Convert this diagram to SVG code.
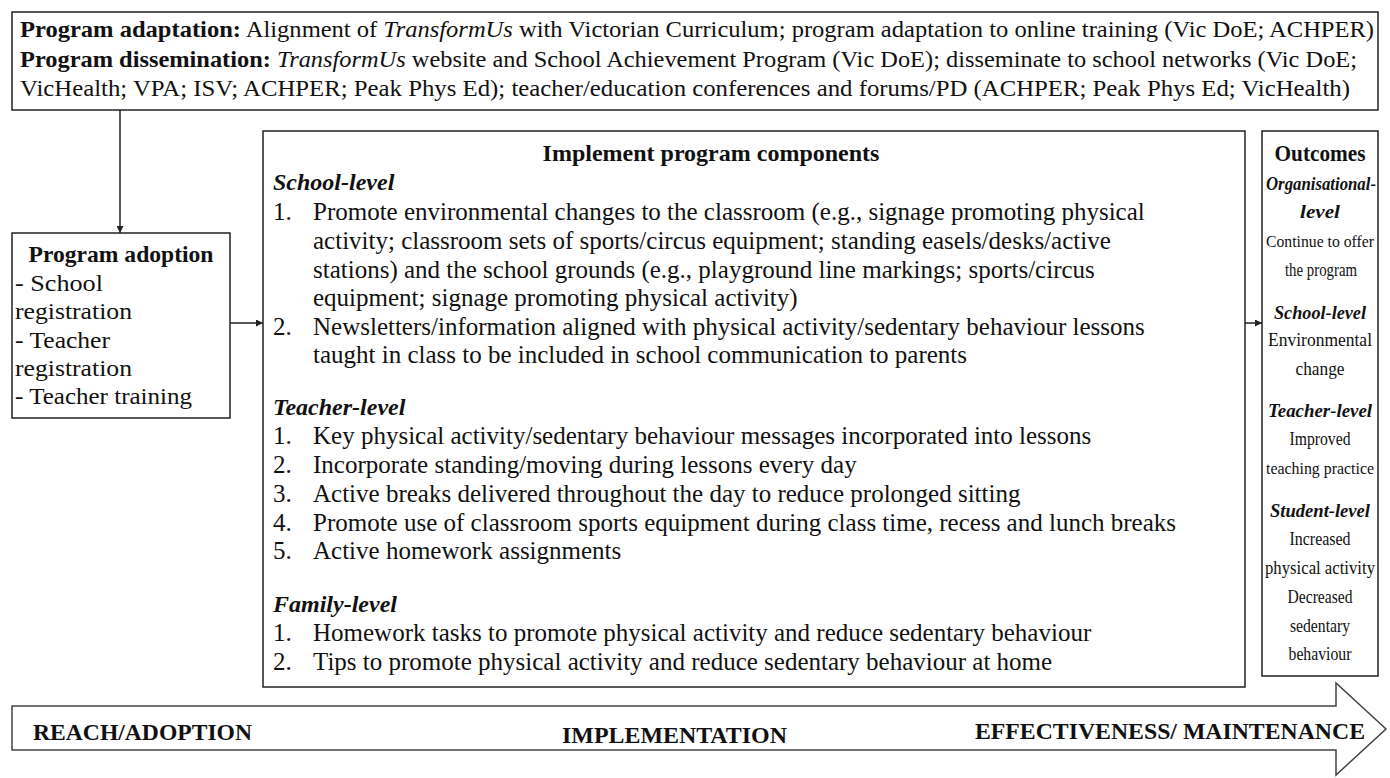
<svg xmlns="http://www.w3.org/2000/svg" width="1390" height="778" viewBox="0 0 1390 778">
<defs>
<style>
text{font-family:"Liberation Serif","Times New Roman",serif;font-size:24px;fill:#111;}
.b{font-weight:bold;}
.i{font-style:italic;}
.bi{font-weight:bold;font-style:italic;}
.c{text-anchor:middle;}
.t{font-size:25px;}
.o{font-size:19px;}
.os{font-size:17px;}
.box{fill:#fff;stroke:#222;stroke-width:1.5;}
.conn{stroke:#222;stroke-width:1.5;fill:none;}
</style>
<marker id="ah" viewBox="0 0 10 10" refX="10" refY="5" markerWidth="7" markerHeight="7" orient="auto" markerUnits="userSpaceOnUse">
<path d="M0,0 L10,5 L0,10 z" fill="#222"/>
</marker>
</defs>
<rect width="1390" height="778" fill="#fff"/>

<g id="top-box">
<rect class="box" x="12" y="12" width="1366" height="98"/>
<text x="20" y="37" textLength="1354" lengthAdjust="spacingAndGlyphs"><tspan class="b">Program adaptation:</tspan> Alignment of <tspan class="i">TransformUs</tspan> with Victorian Curriculum; program adaptation to online training (Vic DoE; ACHPER)</text>
<text x="20" y="67" textLength="1337" lengthAdjust="spacingAndGlyphs"><tspan class="b">Program dissemination:</tspan> <tspan class="i">TransformUs</tspan> website and School Achievement Program (Vic DoE); disseminate to school networks (Vic DoE;</text>
<text x="20" y="96" textLength="1330" lengthAdjust="spacingAndGlyphs">VicHealth; VPA; ISV; ACHPER; Peak Phys Ed); teacher/education conferences and forums/PD (ACHPER; Peak Phys Ed; VicHealth)</text>
</g>

<g id="adoption">
<rect class="box" x="12" y="233" width="218" height="185"/>
<text class="b c" x="121" y="262" textLength="185" lengthAdjust="spacingAndGlyphs">Program adoption</text>
<text x="15" y="291" textLength="88" lengthAdjust="spacingAndGlyphs">- School</text>
<text x="15" y="319" textLength="117" lengthAdjust="spacingAndGlyphs">registration</text>
<text x="15" y="348" textLength="95" lengthAdjust="spacingAndGlyphs">- Teacher</text>
<text x="15" y="376" textLength="117" lengthAdjust="spacingAndGlyphs">registration</text>
<text x="15" y="404" textLength="177" lengthAdjust="spacingAndGlyphs">- Teacher training</text>
</g>

<g id="implement">
<rect class="box" x="263" y="131" width="982" height="556"/>
<text class="b c" x="711" y="161">Implement program components</text>
<text class="bi" x="273" y="190">School-level</text>
<text class="t" x="273" y="220">1.</text>
<text class="t" x="313" y="220">Promote environmental changes to the classroom (e.g., signage promoting physical</text>
<text class="t" x="313" y="249">activity; classroom sets of sports/circus equipment; standing easels/desks/active</text>
<text class="t" x="313" y="278">stations) and the school grounds (e.g., playground line markings; sports/circus</text>
<text class="t" x="313" y="306">equipment; signage promoting physical activity)</text>
<text class="t" x="273" y="335">2.</text>
<text class="t" x="313" y="335">Newsletters/information aligned with physical activity/sedentary behaviour lessons</text>
<text class="t" x="313" y="363">taught in class to be included in school communication to parents</text>
<text class="bi" x="273" y="415">Teacher-level</text>
<text class="t" x="273" y="444">1.</text>
<text class="t" x="313" y="444">Key physical activity/sedentary behaviour messages incorporated into lessons</text>
<text class="t" x="273" y="473">2.</text>
<text class="t" x="313" y="473">Incorporate standing/moving during lessons every day</text>
<text class="t" x="273" y="502">3.</text>
<text class="t" x="313" y="502">Active breaks delivered throughout the day to reduce prolonged sitting</text>
<text class="t" x="273" y="531">4.</text>
<text class="t" x="313" y="531">Promote use of classroom sports equipment during class time, recess and lunch breaks</text>
<text class="t" x="273" y="559">5.</text>
<text class="t" x="313" y="559">Active homework assignments</text>
<text class="bi" x="273" y="612">Family-level</text>
<text class="t" x="273" y="641">1.</text>
<text class="t" x="313" y="641">Homework tasks to promote physical activity and reduce sedentary behaviour</text>
<text class="t" x="273" y="670">2.</text>
<text class="t" x="313" y="670">Tips to promote physical activity and reduce sedentary behaviour at home</text>
</g>

<g id="outcomes">
<rect class="box" x="1262" y="131" width="116" height="545"/>
<text class="b c" x="1320" y="161" textLength="91" lengthAdjust="spacingAndGlyphs">Outcomes</text>
<text class="bi c o" x="1321" y="190" textLength="110" lengthAdjust="spacingAndGlyphs">Organisational-</text>
<text class="bi c o" x="1320" y="218" textLength="40" lengthAdjust="spacingAndGlyphs">level</text>
<text class="c os" x="1320" y="247" textLength="108" lengthAdjust="spacingAndGlyphs">Continue to offer</text>
<text class="c o" x="1321" y="276" textLength="72" lengthAdjust="spacingAndGlyphs">the program</text>
<text class="bi c o" x="1320" y="319" textLength="92" lengthAdjust="spacingAndGlyphs">School-level</text>
<text class="c o" x="1320" y="346" textLength="104" lengthAdjust="spacingAndGlyphs">Environmental</text>
<text class="c o" x="1320" y="375" textLength="49" lengthAdjust="spacingAndGlyphs">change</text>
<text class="bi c o" x="1320" y="417" textLength="104" lengthAdjust="spacingAndGlyphs">Teacher-level</text>
<text class="c o" x="1320" y="445" textLength="61" lengthAdjust="spacingAndGlyphs">Improved</text>
<text class="c os" x="1320" y="474" textLength="108" lengthAdjust="spacingAndGlyphs">teaching practice</text>
<text class="bi c o" x="1320" y="517" textLength="100" lengthAdjust="spacingAndGlyphs">Student-level</text>
<text class="c o" x="1320" y="545" textLength="61" lengthAdjust="spacingAndGlyphs">Increased</text>
<text class="c o" x="1320" y="574" textLength="110" lengthAdjust="spacingAndGlyphs">physical activity</text>
<text class="c o" x="1320" y="603" textLength="65" lengthAdjust="spacingAndGlyphs">Decreased</text>
<text class="c o" x="1320" y="632" textLength="60" lengthAdjust="spacingAndGlyphs">sedentary</text>
<text class="c o" x="1320" y="660" textLength="63" lengthAdjust="spacingAndGlyphs">behaviour</text>
</g>

<g id="re-aim-arrow">
<polygon points="12,706 1336,706 1336,683 1386,729 1336,775 1336,750 12,750" fill="#fff" stroke="#444" stroke-width="1.5"/>
<text class="b" x="33" y="740" textLength="219" lengthAdjust="spacingAndGlyphs">REACH/ADOPTION</text>
<text class="b" x="562" y="743" textLength="225" lengthAdjust="spacingAndGlyphs">IMPLEMENTATION</text>
<text class="b" x="975" y="739" textLength="390" lengthAdjust="spacingAndGlyphs">EFFECTIVENESS/ MAINTENANCE</text>
</g>

<g id="connectors">
<line class="conn" x1="120" y1="110" x2="120" y2="233" marker-end="url(#ah)"/>
<line class="conn" x1="230" y1="323" x2="263" y2="323" marker-end="url(#ah)"/>
<line class="conn" x1="1245" y1="323" x2="1262" y2="323" marker-end="url(#ah)"/>
</g>
</svg>
